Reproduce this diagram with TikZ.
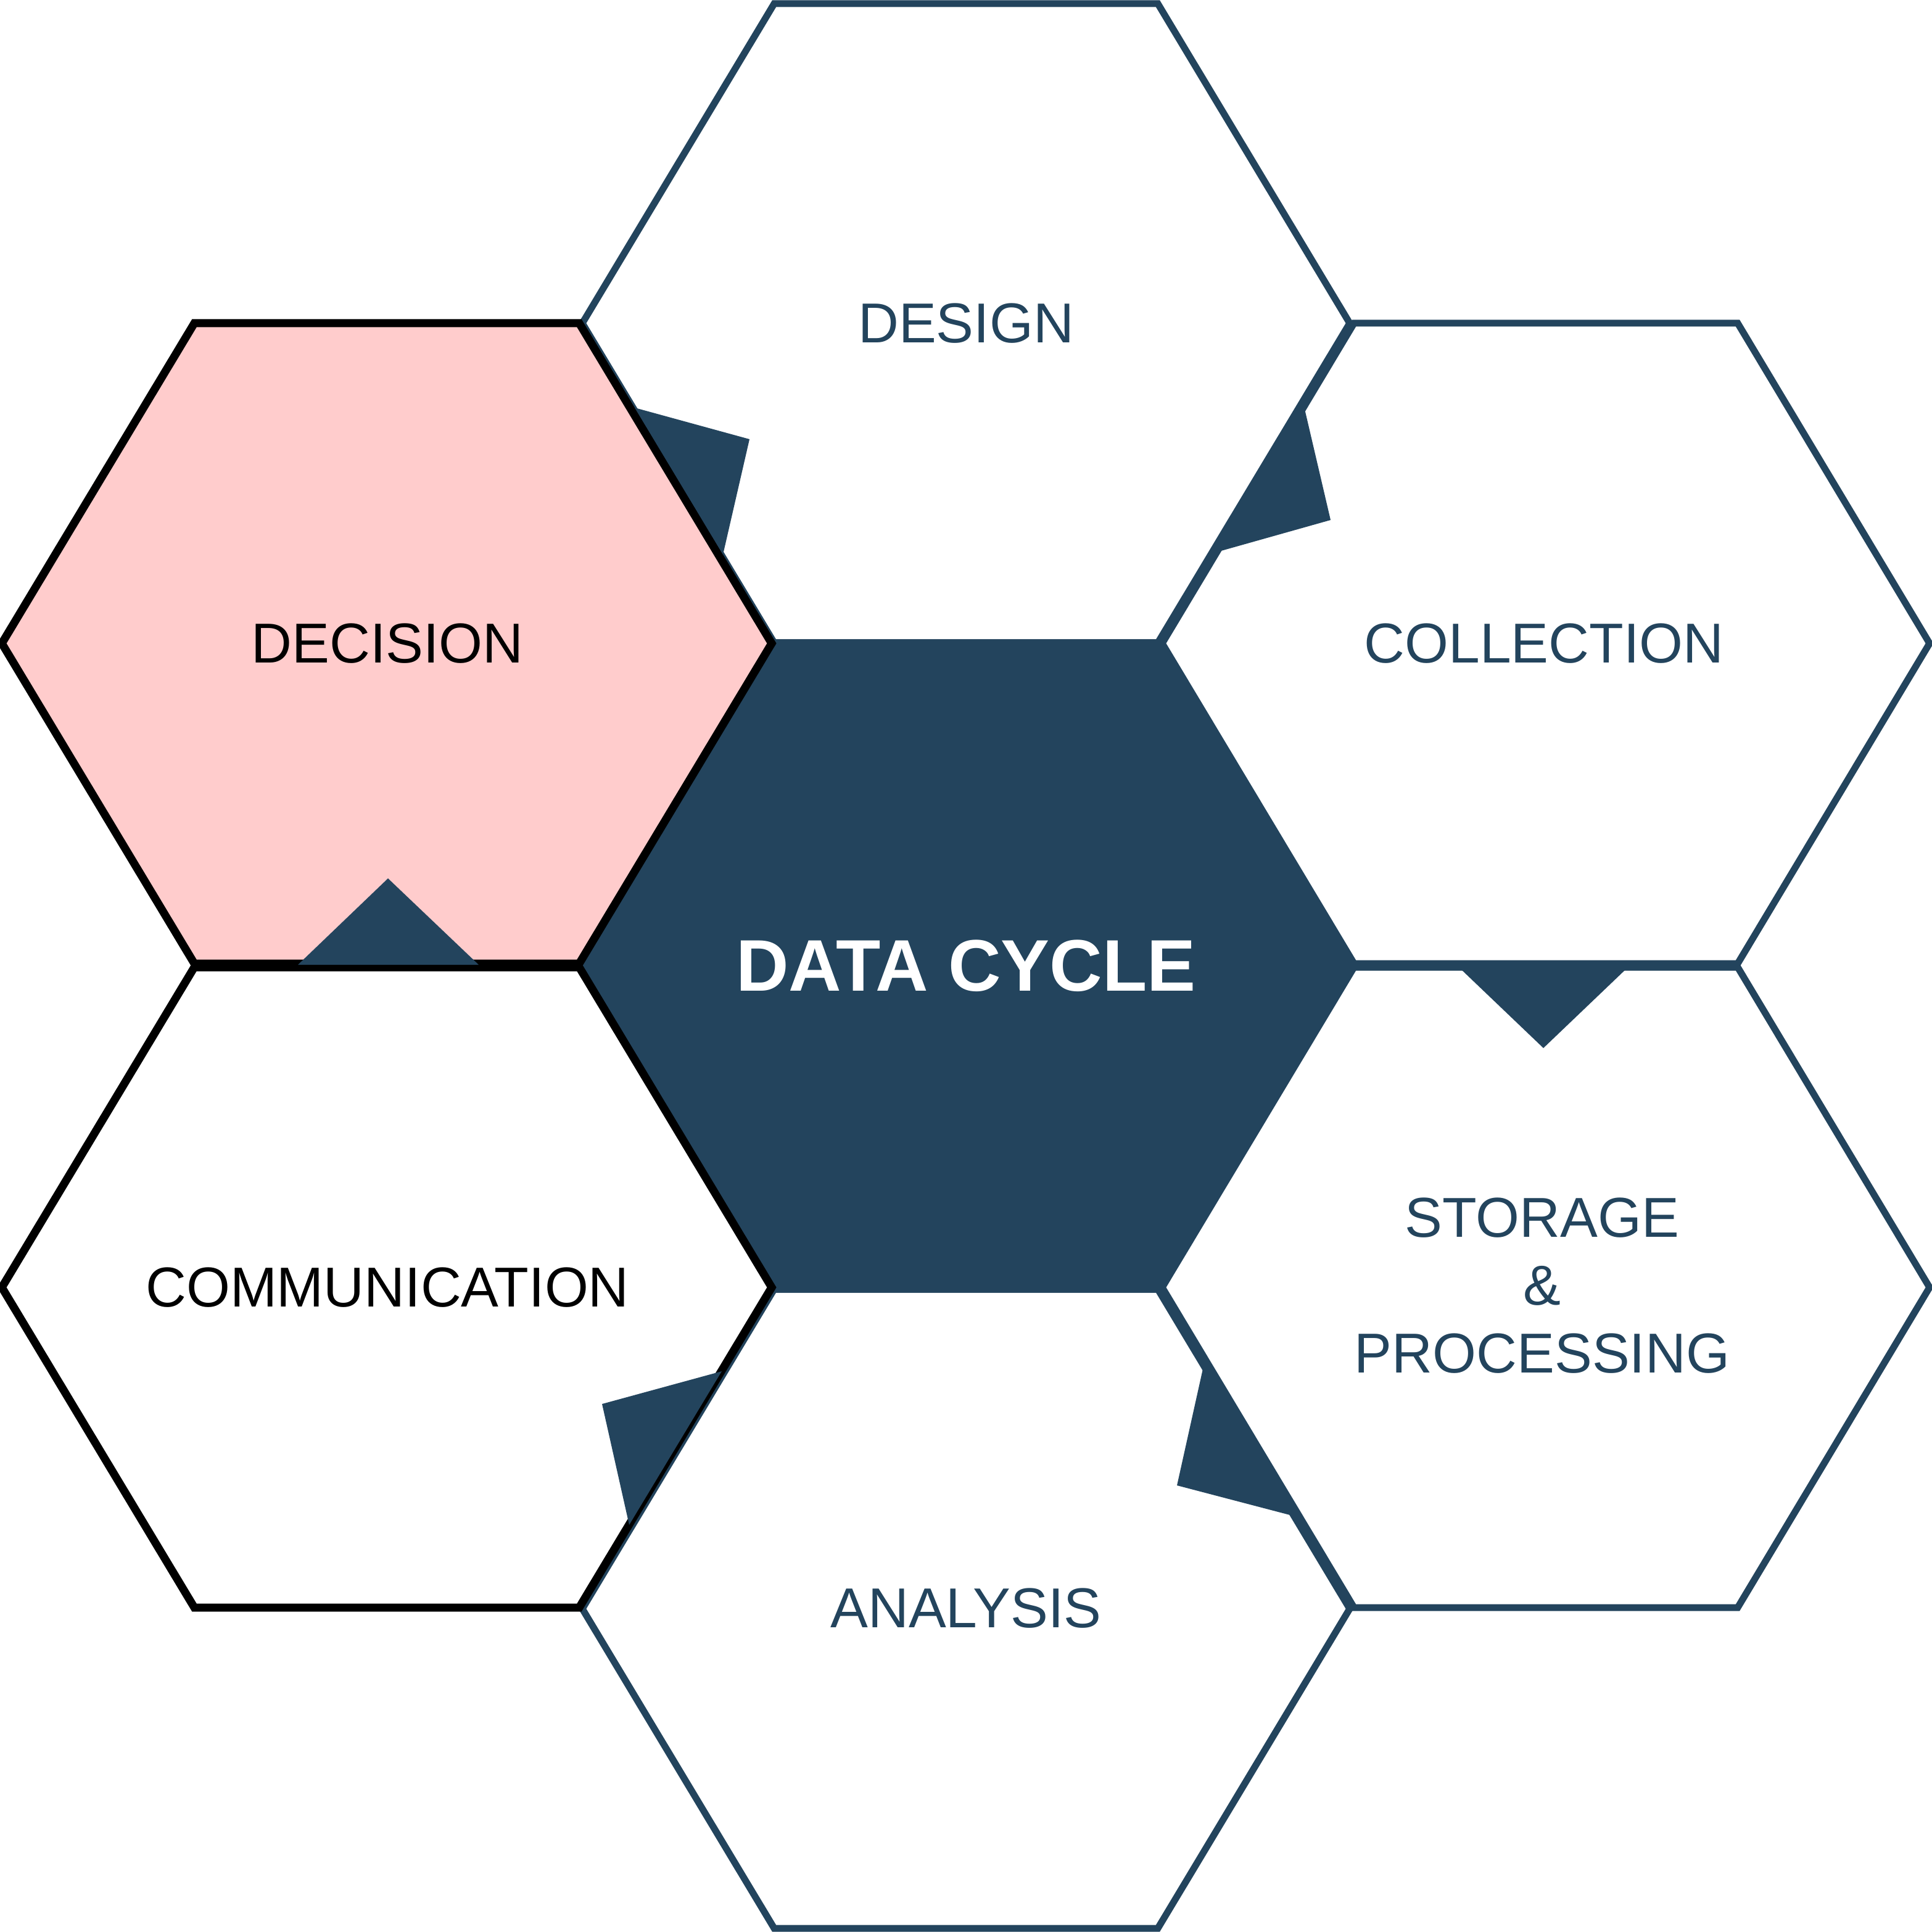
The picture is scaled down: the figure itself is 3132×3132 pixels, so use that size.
\documentclass[tikz,border=0pt]{standalone}
\usepackage{fontspec}
\setmainfont{Liberation Sans}
\definecolor{navy}{HTML}{23445D}
\definecolor{pinkfill}{HTML}{FFCCCC}
\begin{document}
\begin{tikzpicture}[x=0.25pt,y=-0.25pt,
  bluehex/.style={draw=navy,line width=2.75pt,fill=white,line join=miter},
  corehex/.style={draw=navy,line width=2.75pt,fill=navy,line join=miter},
  blackhex/.style={draw=black,line width=3.25pt,line join=miter},
  lbl/.style={font=\fontsize{22.8}{27.6}\selectfont,text=navy,align=center,inner sep=0pt},
  blbl/.style={lbl,text=black},
  corelbl/.style={font=\fontsize{29.6}{35}\selectfont\bfseries,text=white,inner sep=0pt},
  pointer/.style={fill=navy,draw=none}]
\useasboundingbox (0,0) rectangle (3132,3132);
\fill[white] (0,0) rectangle (3132,3132);
% outer hexagons with blue outline
\draw[bluehex] (944,524) -- (1255,6) -- (1877,6) -- (2188,524) -- (1877,1042) -- (1255,1042) -- cycle;
\draw[bluehex] (1884,1043) -- (2195,524) -- (2817,524) -- (3128,1043) -- (2817,1562) -- (2195,1562) -- cycle;
\draw[bluehex] (1884,2087) -- (2195,1568) -- (2817,1568) -- (3128,2087) -- (2817,2606) -- (2195,2606) -- cycle;
\draw[bluehex] (944,2608) -- (1255,2090) -- (1877,2090) -- (2188,2608) -- (1877,3126) -- (1255,3126) -- cycle;
% core hexagon
\draw[corehex] (944,1566) -- (1256,1042) -- (1879,1042) -- (2194,1566) -- (1879,2090) -- (1256,2090) -- cycle;
% black-outlined hexagons
\draw[blackhex,fill=pinkfill] (3,1043) -- (315,524) -- (939,524) -- (1251,1043) -- (939,1562) -- (315,1562) -- cycle;
\draw[blackhex,fill=white] (3,2087) -- (315,1568) -- (939,1568) -- (1251,2087) -- (939,2606) -- (315,2606) -- cycle;
% pointers
\fill[pointer] (1029,661) -- (1215,712) -- (1172,899) -- cycle;
\fill[pointer] (2114,659) -- (2157,843) -- (1976,894) -- cycle;
\fill[pointer] (2367,1570) -- (2502,1699) -- (2637,1570) -- cycle;
\fill[pointer] (1950,2219) -- (1908,2408) -- (2095,2457) -- cycle;
\fill[pointer] (1170,2223) -- (976,2276) -- (1020,2472) -- cycle;
\fill[pointer] (483,1564) -- (629,1424) -- (776,1564) -- cycle;
% labels
\node[corelbl] (core) at (1566,1566) {DATA CYCLE};
\node[lbl] (design) at (1566,524) {DESIGN};
\node[lbl] (collection) at (2503,1043) {COLLECTION};
\node[lbl] (storage) at (2500,2084) {STORAGE\\\&\\PROCESSING};
\node[lbl] (analysis) at (1566,2607) {ANALYSIS};
\node[blbl] (communication) at (628,2087) {COMMUNICATION};
\node[blbl] (decision) at (628,1043) {DECISION};
\end{tikzpicture}
\end{document}
